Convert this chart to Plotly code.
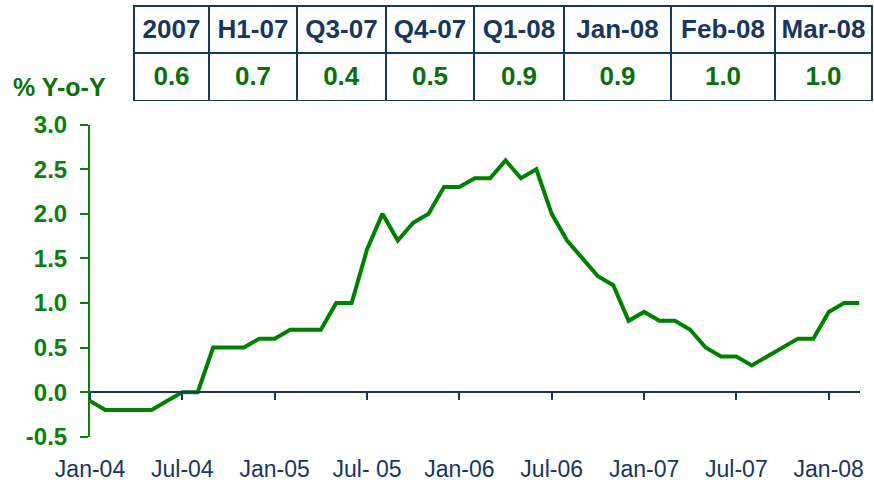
import plotly.graph_objects as go

# ---- data ----
values = [-0.1, -0.2, -0.2, -0.2, -0.2, -0.1, 0.0, 0.0, 0.5, 0.5, 0.5, 0.6,   # 2004
          0.6, 0.7, 0.7, 0.7, 1.0, 1.0, 1.6, 2.0, 1.7, 1.9, 2.0, 2.3,          # 2005
          2.3, 2.4, 2.4, 2.6, 2.4, 2.5, 2.0, 1.7, 1.5, 1.3, 1.2, 0.8,          # 2006
          0.9, 0.8, 0.8, 0.7, 0.5, 0.4, 0.4, 0.3, 0.4, 0.5, 0.6, 0.6,          # 2007
          0.9, 1.0, 1.0]                                                        # 2008
tick_labels = ["Jan-04", "Jul-04", "Jan-05", "Jul- 05", "Jan-06", "Jul-06",
               "Jan-07", "Jul-07", "Jan-08"]
y_ticks = [-0.5, 0.0, 0.5, 1.0, 1.5, 2.0, 2.5, 3.0]
y_tick_labels = ["-0.5", "0.0", "0.5", "1.0", "1.5", "2.0", "2.5", "3.0"]
table_headers = ["2007", "H1-07", "Q3-07", "Q4-07", "Q1-08", "Jan-08", "Feb-08", "Mar-08"]
table_values = ["0.6", "0.7", "0.4", "0.5", "0.9", "0.9", "1.0", "1.0"]
col_widths = [75, 88, 89, 88, 90, 107, 104, 97]

# ---- layout constants ----
W, H = 874, 483
GREEN = "#0A800A"
DKGREEN = "#0B700B"
NAVY = "#17375E"
FONT = "Liberation Sans, Arial, sans-serif"

x_pos = list(range(len(values)))
tick_pos = list(range(0, len(values), 6))

plot_left, plot_right = 90, 859.5
plot_top, plot_bottom = 124.7, 436.7
ymin, ymax = -0.5, 3.0
yd0 = (H - plot_bottom) / H
yd1 = (H - plot_top) / H
zero_pos = yd0 + (yd1 - yd0) * (0 - ymin) / (ymax - ymin)

fig = go.Figure()
fig.add_trace(go.Scatter(
    x=x_pos, y=values, mode="lines",
    line=dict(color="#008000", width=4),
    cliponaxis=False, hoverinfo="skip", showlegend=False))

fig.add_trace(go.Table(
    domain=dict(x=[134 / W, 872 / W], y=[1 - 102 / H, 1 - 6 / H]),
    columnwidth=col_widths,
    header=dict(values=["<b>%s</b>" % h for h in table_headers],
                align="center", height=47,
                line=dict(color=NAVY, width=2),
                fill=dict(color="white"),
                font=dict(family=FONT, size=26, color=NAVY)),
    cells=dict(values=[["<b>%s</b>" % v] for v in table_values],
               align="center", height=48,
               line=dict(color=NAVY, width=2),
               fill=dict(color="white"),
               font=dict(family=FONT, size=26, color=DKGREEN)),
))

fig.update_layout(
    width=W, height=H,
    margin=dict(l=0, r=0, t=0, b=0, autoexpand=False),
    paper_bgcolor="white", plot_bgcolor="white",
    font=dict(family=FONT),
    showlegend=False,
    xaxis=dict(
        domain=[plot_left / W, plot_right / W],
        range=[0, len(values) - 1],
        anchor="free", position=zero_pos,
        automargin=False,
        showgrid=False, zeroline=False,
        showline=True, linecolor=NAVY, linewidth=2,
        ticks="outside", ticklen=7, tickwidth=2, tickcolor=NAVY,
        tickvals=tick_pos, ticktext=tick_labels,
        ticklabelstandoff=49,
        tickfont=dict(family=FONT, size=23, color=NAVY),
    ),
    yaxis=dict(
        domain=[yd0, yd1],
        range=[ymin, ymax],
        automargin=False,
        showgrid=False, zeroline=False,
        showline=True, linecolor=GREEN, linewidth=2,
        ticks="outside", ticklen=8, tickwidth=2, tickcolor=GREEN,
        tickvals=y_ticks, ticktext=y_tick_labels,
        ticklabelstandoff=8,
        tickfont=dict(family=FONT, size=24, color=GREEN, weight="bold"),
    ),
    annotations=[dict(
        text="<b>% Y-o-Y</b>", xref="paper", yref="paper",
        x=11 / W, y=1 - 87 / H, xanchor="left", yanchor="middle",
        showarrow=False, font=dict(family=FONT, size=25, color=DKGREEN))],
)

fig.write_html("out.html",
               config={"displayModeBar": False},
               post_script="document.body.style.margin='0';document.body.style.overflow='hidden';")
